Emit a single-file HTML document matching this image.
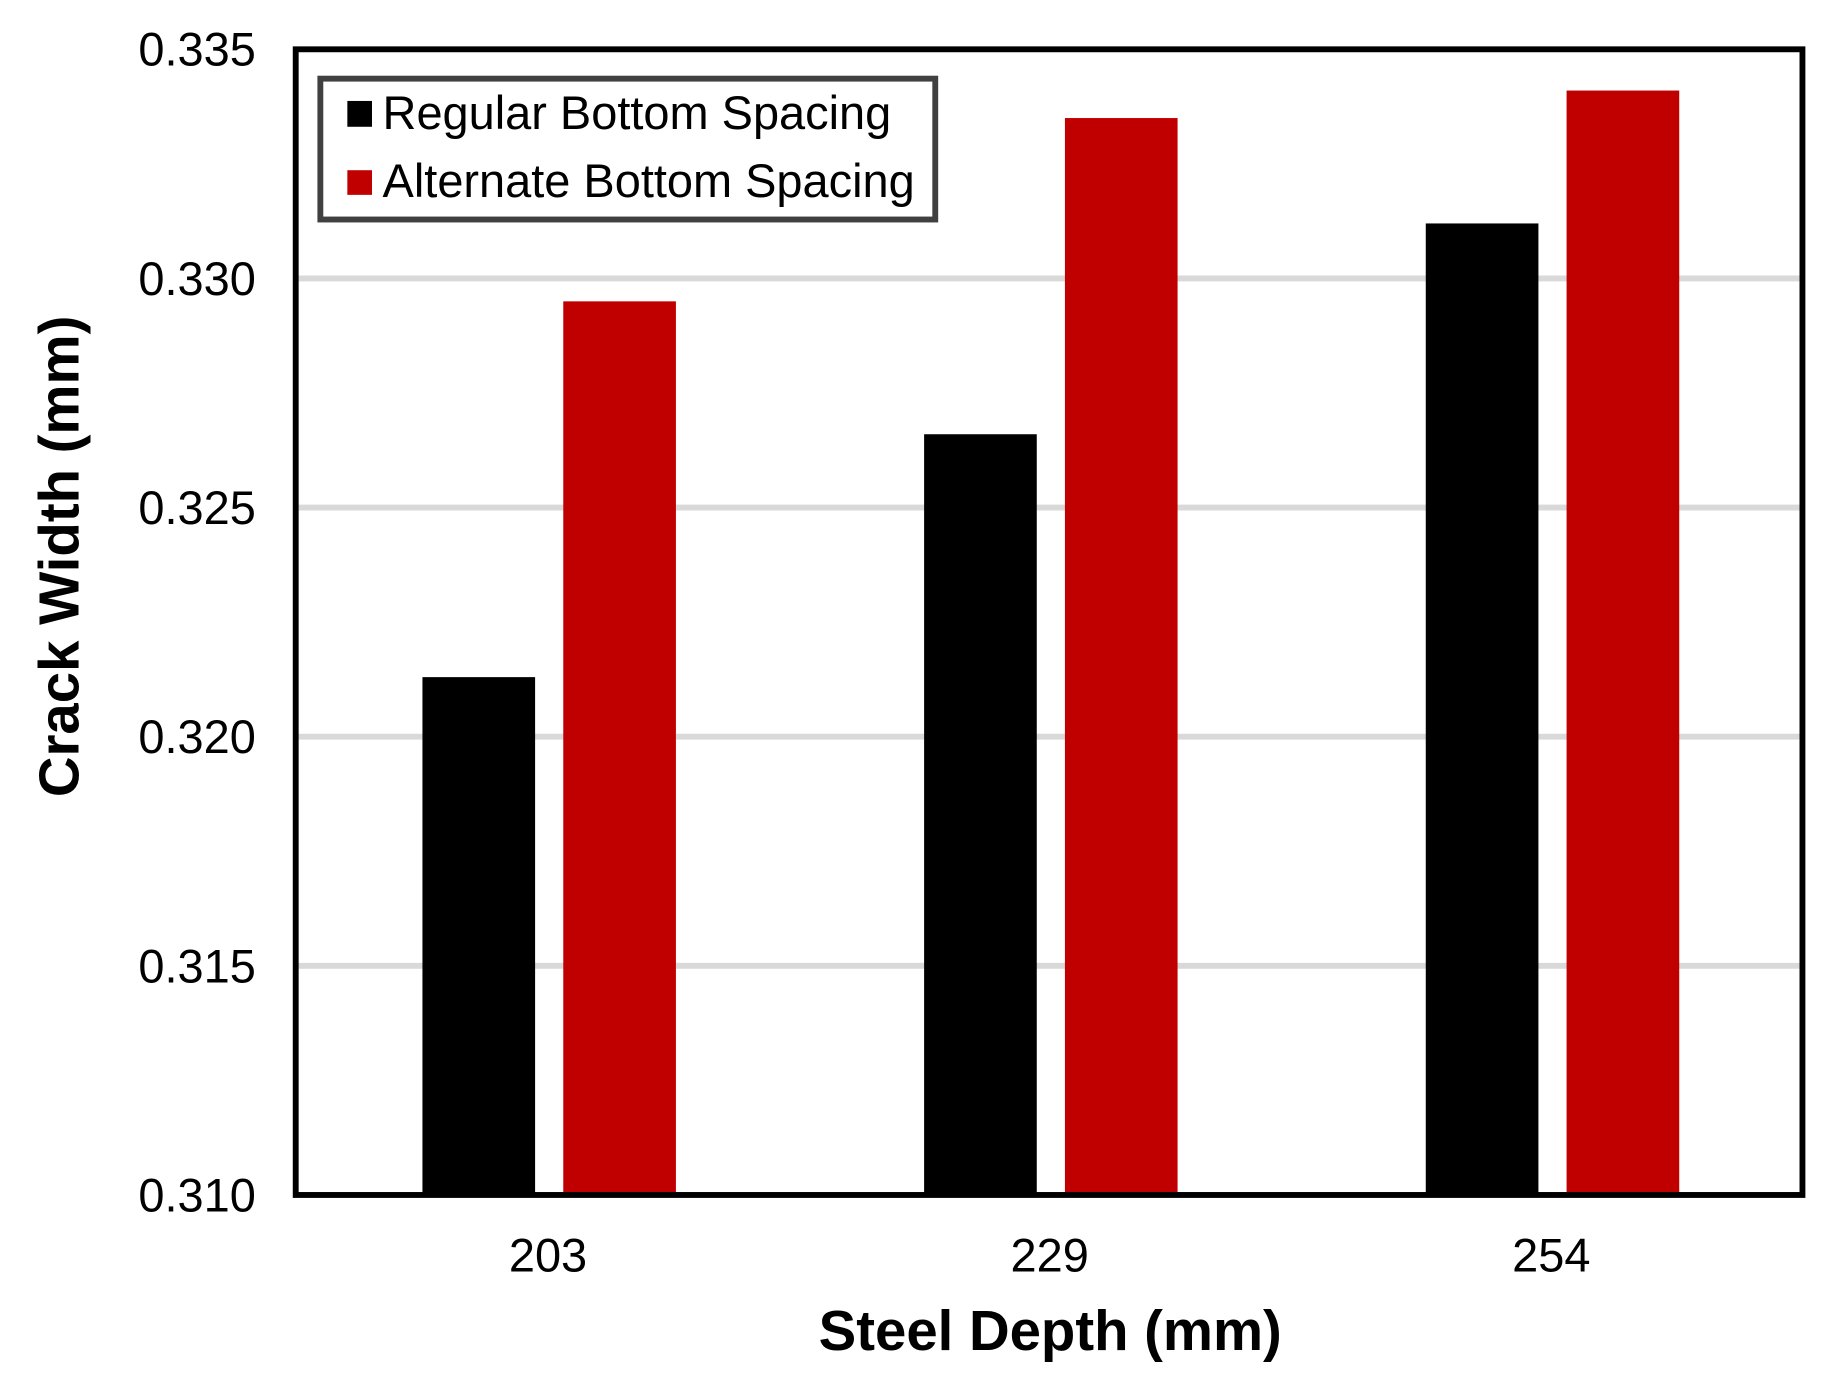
<!DOCTYPE html>
<html><head><meta charset="utf-8"><style>
html,body{margin:0;padding:0;background:#fff}
svg{display:block}
text{font-family:"Liberation Sans",Arial,sans-serif}
</style></head><body>
<svg id="chart" width="1840" height="1391" viewBox="0 0 1568 1185" preserveAspectRatio="none" xmlns="http://www.w3.org/2000/svg">
<g id="grid"></g>
<g id="bars"></g>
<rect x="252" y="42" width="1284" height="976" fill="none" stroke="#000" stroke-width="5"/>
<g id="yticks"></g>
<g id="xticks"></g>
<text x="895" y="1150" text-anchor="middle" font-size="48" font-weight="bold">Steel Depth (mm)</text>
<text transform="translate(67,474) rotate(-90)" text-anchor="middle" font-size="48" font-weight="bold">Crack Width (mm)</text>
<g>
<rect x="273" y="67" width="524" height="120" fill="#fff" stroke="#404040" stroke-width="5"/>
<g>
<rect x="296" y="86" width="21" height="22" fill="#000"/>
<text x="326" y="110" font-size="40">Regular Bottom Spacing</text></g>
<g>
<rect x="296" y="145" width="21" height="21" fill="#c00000"/>
<text x="326" y="168" font-size="40">Alternate Bottom Spacing</text></g>
</g>
</svg>
<script>
const categories=["203","229","254"];
const regular=[0.3213,0.3266,0.3312];
const alternate=[0.3295,0.3335,0.3341];
const yTicks=[0.310,0.315,0.320,0.325,0.330,0.335];
const NS="http://www.w3.org/2000/svg";
const y=v=>1018-(v-0.310)/0.025*976;
const center=i=>467+i*427.5;
function mk(tag,attrs,parent){const e=document.createElementNS(NS,tag);for(const k in attrs)e.setAttribute(k,attrs[k]);parent.appendChild(e);return e;}
const grid=document.getElementById('grid'),bars=document.getElementById('bars'),yt=document.getElementById('yticks'),xt=document.getElementById('xticks');
yTicks.forEach(t=>{
  if(t>0.310&&t<0.335){const l=mk('line',{x1:252,x2:1536,y1:y(t),y2:y(t),stroke:'#d9d9d9','stroke-width':5},grid);
  
  }
  const tx=mk('text',{x:218,y:y(t)+14,'text-anchor':'end','font-size':40},yt);tx.textContent=t.toFixed(3);
  
  
});
categories.forEach((c,i)=>{
  const b1=mk('rect',{x:center(i)-107,y:y(regular[i]),width:96,height:1018-y(regular[i]),fill:'#000'},bars);
  
  
  const b2=mk('rect',{x:center(i)+13,y:y(alternate[i]),width:96,height:1018-y(alternate[i]),fill:'#c00000'},bars);
  
  
  const tx=mk('text',{x:center(i),y:1083,'text-anchor':'middle','font-size':40},xt);tx.textContent=c;
  
  
});
</script>
</body></html>
